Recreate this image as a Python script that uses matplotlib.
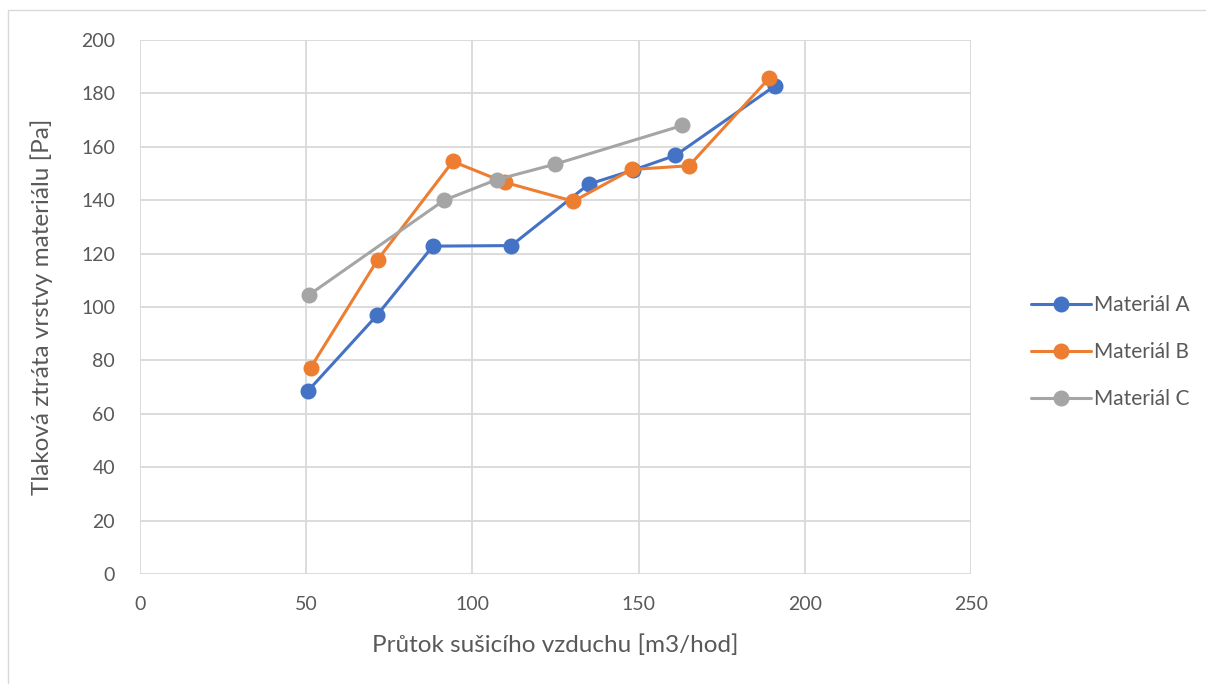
import matplotlib
matplotlib.use("Agg")
import matplotlib.pyplot as plt
from matplotlib.patches import Rectangle

series_names = ["Materiál A", "Materiál B", "Materiál C"]
a_x = [50.4, 71.3, 88.1, 111.7, 135.0, 148.2, 161.1, 191.0]
a_y = [68.4, 96.9, 122.8, 123.0, 146.0, 151.2, 156.8, 182.8]
b_x = [51.3, 71.5, 94.1, 109.7, 130.4, 147.9, 165.2, 189.2]
b_y = [77.2, 117.7, 154.5, 146.7, 139.6, 151.5, 152.9, 185.6]
c_x = [50.8, 91.5, 107.3, 124.9, 163.2]
c_y = [104.5, 140.0, 147.7, 153.5, 168.0]
colors = ["#4472C4", "#ED7D31", "#A5A5A5"]
x_ticks = [0, 50, 100, 150, 200, 250]
y_ticks = [0, 20, 40, 60, 80, 100, 120, 140, 160, 180, 200]

plt.rcParams['font.family'] = ['Lato', 'DejaVu Sans']
W, H = 1206, 684
fig = plt.figure(figsize=(W / 100, H / 100), dpi=100)
ax = fig.add_axes([140 / W, 1 - 574 / H, (971 - 140) / W, (574 - 40) / H])

top = 1 - 10 / H
fig.patches.append(Rectangle((8 / W, -0.05), 1.2, top + 0.05, transform=fig.transFigure,
                             fill=False, edgecolor="#D9D9D9", linewidth=1.0))

for xs, ys, col, name in zip([a_x, b_x, c_x], [a_y, b_y, c_y], colors, series_names):
    ax.plot(xs, ys, color=col, linewidth=2.2, marker='o', markersize=10.5, label=name,
            solid_capstyle='round', zorder=3)

ax.set_xlim(0, 250)
ax.set_ylim(0, 200)
ax.set_xticks(x_ticks)
ax.set_yticks(y_ticks)
ax.grid(True, color="#D9D9D9", linewidth=1.3)
ax.set_axisbelow(True)
for s in ax.spines.values():
    s.set_visible(False)
ax.tick_params(length=0, labelsize=14, colors="#595959")
ax.tick_params(axis='y', pad=18)
ax.tick_params(axis='x', pad=16)
ax.set_xlabel("Průtok sušicího vzduchu [m3/hod]", fontsize=17.5, color="#595959", labelpad=15)
ax.set_ylabel("Tlaková ztráta vrstvy materiálu [Pa]", fontsize=17.5, color="#595959", labelpad=20)

leg = fig.legend(loc='center left', bbox_to_anchor=(1012 / W, 1 - 352 / H), frameon=False,
                 fontsize=15, labelcolor="#595959", handlelength=2.9, handletextpad=0.15,
                 labelspacing=1.3)

fig.savefig("out.png", dpi=100)
